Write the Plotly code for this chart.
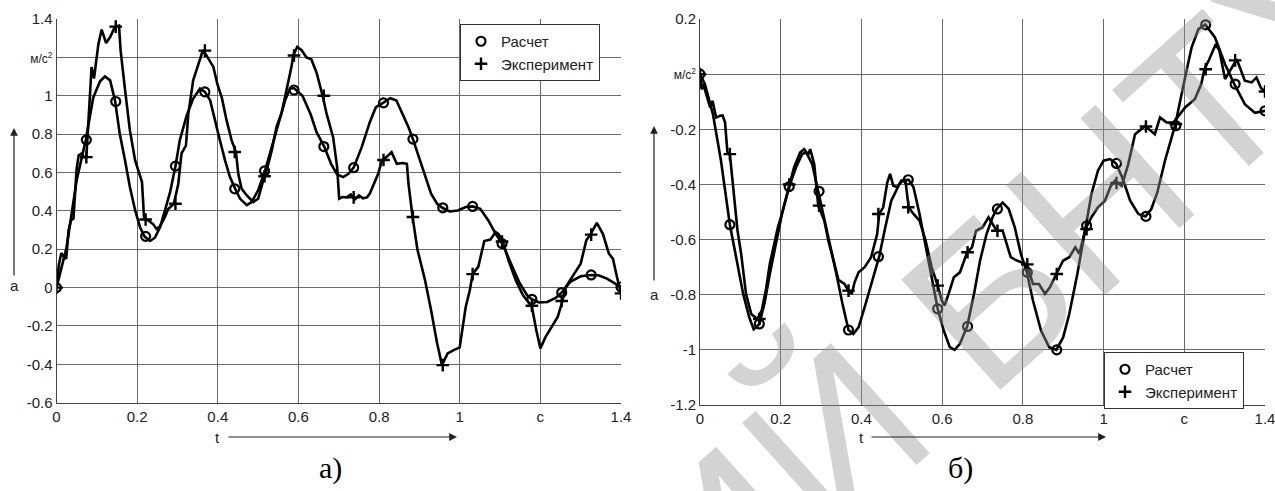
import plotly.graph_objects as go

# ---------------- data: panel а) ----------------
calc_a_t = [0, 0.025, 0.05, 0.073, 0.091, 0.108, 0.12, 0.133, 0.145, 0.157, 0.17, 0.182, 0.195,
            0.207, 0.218, 0.232, 0.244, 0.257, 0.269, 0.282, 0.295, 0.306, 0.323, 0.339, 0.356,
            0.368, 0.381, 0.393, 0.405, 0.418, 0.43, 0.443, 0.455, 0.472, 0.484, 0.5, 0.517,
            0.534, 0.55, 0.567, 0.579, 0.589, 0.61, 0.63, 0.645, 0.664, 0.681, 0.696, 0.711,
            0.724, 0.737, 0.757, 0.777, 0.792, 0.81, 0.828, 0.843, 0.858, 0.873, 0.884, 0.899,
            0.914, 0.929, 0.944, 0.957, 0.975, 0.995, 1.015, 1.032, 1.051, 1.071, 1.089, 1.106,
            1.127, 1.147, 1.167, 1.179, 1.197, 1.217, 1.238, 1.253, 1.274, 1.3, 1.326, 1.344,
            1.365, 1.4]
calc_a_v = [0, 0.21, 0.56, 0.773, 0.99, 1.075, 1.1, 1.08, 0.976, 0.8, 0.663, 0.524, 0.403,
            0.316, 0.267, 0.243, 0.26, 0.316, 0.403, 0.5, 0.633, 0.77, 0.898, 0.985, 1.037,
            1.02, 0.976, 0.88, 0.77, 0.663, 0.577, 0.516, 0.464, 0.43, 0.446, 0.507, 0.608,
            0.733, 0.846, 0.976, 1.037, 1.04, 1.0, 0.905, 0.81, 0.735, 0.645, 0.59, 0.576,
            0.593, 0.625, 0.732, 0.862, 0.94, 0.963, 0.987, 0.975, 0.905, 0.836, 0.774, 0.68,
            0.576, 0.489, 0.437, 0.416, 0.397, 0.402, 0.42, 0.423, 0.411, 0.35, 0.28, 0.229,
            0.125, 0.03, -0.04, -0.061, -0.078, -0.075, -0.054, -0.026, 0.03, 0.059, 0.066, 0.064,
            0.047, 0.003]

exp_a_t = [0, 0.006, 0.012, 0.018, 0.024, 0.03, 0.036, 0.042, 0.05, 0.055, 0.063, 0.068, 0.074,
           0.08, 0.087, 0.093, 0.104, 0.112, 0.123, 0.133, 0.145, 0.155, 0.159, 0.17, 0.182,
           0.195, 0.207, 0.212, 0.217, 0.228, 0.24, 0.248, 0.257, 0.269, 0.277, 0.291, 0.302,
           0.31, 0.321, 0.327, 0.339, 0.352, 0.363, 0.372, 0.381, 0.389, 0.399, 0.41, 0.422,
           0.434, 0.445, 0.451, 0.459, 0.472, 0.488, 0.5, 0.513, 0.521, 0.534, 0.546, 0.558,
           0.571, 0.583, 0.587, 0.597, 0.608, 0.62, 0.632, 0.645, 0.66, 0.67, 0.686, 0.696,
           0.701, 0.709, 0.72, 0.73, 0.74, 0.75, 0.76, 0.77, 0.777, 0.798, 0.807, 0.818, 0.831,
           0.844, 0.858, 0.869, 0.873, 0.883, 0.895, 0.914, 0.929, 0.944, 0.956, 0.97, 0.985,
           1.0, 1.005, 1.015, 1.025, 1.032, 1.046, 1.061, 1.076, 1.089, 1.096, 1.106, 1.121,
           1.139, 1.157, 1.179, 1.19, 1.2, 1.213, 1.228, 1.243, 1.253, 1.263, 1.279, 1.3,
           1.314, 1.325, 1.34, 1.355, 1.37, 1.38, 1.39, 1.4]
exp_a_v = [0, 0.12, 0.18, 0.16, 0.15, 0.3, 0.35, 0.36, 0.62, 0.69, 0.7, 0.68, 0.68,
           0.9, 1.15, 1.09, 1.27, 1.345, 1.275, 1.306, 1.36, 1.365, 1.237, 1.03, 0.82,
           0.663, 0.577, 0.55, 0.368, 0.35, 0.33, 0.306, 0.32, 0.368, 0.41, 0.437, 0.54,
           0.7, 0.74, 0.907, 1.08, 1.165, 1.237, 1.21, 1.175, 1.15, 1.06, 0.99, 0.87,
           0.77, 0.707, 0.59, 0.516, 0.48, 0.446, 0.463, 0.56, 0.61, 0.716, 0.84, 0.907,
           1.03, 1.153, 1.21, 1.254, 1.237, 1.2, 1.19, 1.12, 1.0, 0.905, 0.784, 0.628,
           0.463, 0.472, 0.47, 0.485, 0.46, 0.48, 0.465, 0.47, 0.49, 0.594, 0.664, 0.68, 0.706,
           0.645, 0.649, 0.645, 0.54, 0.37, 0.2, 0.038, -0.118, -0.29, -0.404, -0.343, -0.326,
           -0.312, -0.24, -0.1, -0.014, 0.07, 0.108, 0.243, 0.25, 0.29, 0.28, 0.246, 0.142,
           0.038, -0.04, -0.1, -0.222, -0.317, -0.257, -0.205, -0.153, -0.083, 0.003, 0.056, 0.125,
           0.246, 0.28, 0.337, 0.28, 0.177, 0.15, 0.055, -0.03]

# marker positions (same for all curves)
marker_t = [0, 0.074, 0.147, 0.221, 0.295, 0.368, 0.442, 0.516, 0.589, 0.663, 0.737, 0.811,
            0.884, 0.958, 1.032, 1.105, 1.179, 1.253, 1.326, 1.4]
calc_a_mk = [0, 0.77, 0.97, 0.267, 0.633, 1.02, 0.515, 0.608, 1.03, 0.735, 0.625, 0.963,
             0.774, 0.416, 0.423, 0.229, -0.061, -0.026, 0.066, 0.003]
exp_a_mk = [0, 0.68, 1.36, 0.355, 0.437, 1.235, 0.707, 0.58, 1.21, 1.0, 0.47, 0.665,
            0.368, -0.404, 0.07, 0.24, -0.095, -0.07, 0.276, -0.03]

# ---------------- data: panel б) ----------------
calc_b_t = [0, 0.012, 0.032, 0.052, 0.074, 0.092, 0.107, 0.122, 0.133, 0.147, 0.16, 0.173,
            0.188, 0.203, 0.221, 0.238, 0.253, 0.263, 0.278, 0.293, 0.308, 0.323, 0.338, 0.353,
            0.368, 0.38, 0.393, 0.408, 0.424, 0.444, 0.459, 0.474, 0.494, 0.504, 0.517, 0.529,
            0.544, 0.559, 0.574, 0.589, 0.604, 0.619, 0.631, 0.644, 0.662, 0.679, 0.694, 0.71,
            0.725, 0.735, 0.75, 0.765, 0.78, 0.795, 0.81, 0.825, 0.845, 0.865, 0.883, 0.9,
            0.915, 0.935, 0.955, 0.97, 0.986, 1.0, 1.016, 1.031, 1.046, 1.066, 1.086, 1.104,
            1.118, 1.133, 1.152, 1.177, 1.202, 1.218, 1.235, 1.252, 1.276, 1.301, 1.324, 1.35,
            1.375, 1.4]
calc_b_v = [0, -0.036, -0.145, -0.314, -0.546, -0.688, -0.797, -0.882, -0.925, -0.906, -0.83, -0.725,
            -0.616, -0.507, -0.408, -0.338, -0.29, -0.284, -0.326, -0.425, -0.519, -0.616, -0.725, -0.833,
            -0.928, -0.942, -0.918, -0.845, -0.761, -0.662, -0.556, -0.459, -0.399, -0.384, -0.383, -0.41,
            -0.507, -0.616, -0.737, -0.851, -0.93, -0.99, -1.0, -0.978, -0.915, -0.797, -0.676, -0.58,
            -0.519, -0.489, -0.466, -0.489, -0.556, -0.652, -0.719, -0.821, -0.93, -0.99, -1.0, -0.954,
            -0.87, -0.725, -0.55, -0.435, -0.35, -0.314, -0.308, -0.324, -0.374, -0.459, -0.507, -0.516,
            -0.49, -0.43, -0.315, -0.187, -0.012, 0.096, 0.163, 0.18, 0.133, 0.036, -0.036, -0.109,
            -0.14, -0.133]

exp_b_t = [0, 0.004, 0.008, 0.015, 0.025, 0.031, 0.04, 0.05, 0.056, 0.062, 0.068, 0.074, 0.081,
           0.087, 0.093, 0.102, 0.114, 0.127, 0.142, 0.153, 0.163, 0.173, 0.183, 0.193, 0.203,
           0.221, 0.233, 0.248, 0.258, 0.268, 0.273, 0.283, 0.293, 0.308, 0.318, 0.331, 0.343,
           0.358, 0.368, 0.376, 0.383, 0.393, 0.408, 0.424, 0.439, 0.444, 0.454, 0.464, 0.471,
           0.479, 0.489, 0.499, 0.509, 0.517, 0.529, 0.544, 0.559, 0.574, 0.589, 0.599, 0.606,
           0.616, 0.629, 0.644, 0.662, 0.674, 0.684, 0.7, 0.715, 0.725, 0.735, 0.75, 0.76,
           0.77, 0.785, 0.81, 0.825, 0.84, 0.855, 0.867, 0.883, 0.9, 0.915, 0.93, 0.94,
           0.955, 0.97, 0.986, 1.003, 1.018, 1.028, 1.045, 1.061, 1.078, 1.103, 1.127, 1.14,
           1.156, 1.173, 1.202, 1.226, 1.242, 1.25, 1.262, 1.278, 1.287, 1.301, 1.319, 1.33,
           1.35, 1.367, 1.379, 1.39, 1.4]
exp_b_v = [0, -0.055, -0.035, -0.07, -0.121, -0.097, -0.157, -0.151, -0.15, -0.175, -0.284, -0.29, -0.387,
           -0.484, -0.568, -0.652, -0.797, -0.87, -0.888, -0.857, -0.785, -0.688, -0.622, -0.556, -0.507,
           -0.4, -0.338, -0.284, -0.272, -0.292, -0.272, -0.326, -0.477, -0.531, -0.604, -0.676, -0.746,
           -0.761, -0.785, -0.797, -0.755, -0.719, -0.7, -0.664, -0.58, -0.507, -0.483, -0.393, -0.362,
           -0.405, -0.41, -0.386, -0.386, -0.483, -0.507, -0.531, -0.604, -0.7, -0.767, -0.821, -0.839,
           -0.797, -0.737, -0.719, -0.646, -0.628, -0.568, -0.556, -0.519, -0.543, -0.568, -0.568, -0.616,
           -0.664, -0.676, -0.69, -0.761, -0.761, -0.797, -0.773, -0.725, -0.676, -0.664, -0.628, -0.652,
           -0.562, -0.519, -0.483, -0.46, -0.405, -0.387, -0.405, -0.327, -0.218, -0.188, -0.218, -0.157,
           -0.175, -0.176, -0.121, -0.091, -0.036, 0.018, 0.054, 0.109, 0.085, -0.018, 0.03, 0.054,
           -0.024, -0.03, -0.012, -0.05, -0.063]

calc_b_mk = [0, -0.546, -0.906, -0.408, -0.425, -0.928, -0.662, -0.383, -0.851, -0.915, -0.489, -0.719,
             -1.0, -0.55, -0.324, -0.516, -0.187, 0.179, -0.036, -0.133]
exp_b_mk = [0, -0.29, -0.888, -0.40, -0.477, -0.785, -0.507, -0.483, -0.767, -0.646, -0.568, -0.69,
            -0.725, -0.562, -0.395, -0.19, -0.181, 0.018, 0.05, -0.063]

# tick labels
x_tickvals = [0, 0.2, 0.4, 0.6, 0.8, 1.0, 1.2, 1.4]
x_ticktext = ["0", "0.2", "0.4", "0.6", "0.8", "1", "c", "1.4"]
unit = "<span style='font-size:12px'>м/с<sup>2</sup></span>"
ya_tickvals = [-0.6, -0.4, -0.2, 0, 0.2, 0.4, 0.6, 0.8, 1.0, 1.2, 1.4]
ya_ticktext = ["-0.6", "-0.4", "-0.2", "0", "0.2", "0.4", "0.6", "0.8", "1", unit, "1.4"]
yb_tickvals = [-1.2, -1.0, -0.8, -0.6, -0.4, -0.2, 0, 0.2]
yb_ticktext = ["-1.2", "-1", "-0.8", "-0.6", "-0.4", "-0.2", unit, "0.2"]

names = ["Расчет", "Эксперимент"]
watermark_text = "ИЙ БНТУ"

W, H = 1275, 491
FONT = "Liberation Sans, Arial, sans-serif"
LINE = dict(color="black", width=2.6)

fig = go.Figure()

def add_panel(xa, ya, calc_t, calc_v, exp_t, exp_v, calc_mk, exp_mk, legend):
    fig.add_trace(go.Scatter(x=calc_t, y=calc_v, mode="lines", line=LINE, xaxis=xa, yaxis=ya,
                             showlegend=False, hoverinfo="skip"))
    fig.add_trace(go.Scatter(x=exp_t, y=exp_v, mode="lines", line=LINE, xaxis=xa, yaxis=ya,
                             showlegend=False, hoverinfo="skip"))
    fig.add_trace(go.Scatter(x=marker_t, y=calc_mk, mode="markers", name=names[0], xaxis=xa, yaxis=ya,
                             marker=dict(symbol="circle-open", size=9, color="black",
                                         line=dict(width=2.2, color="black")),
                             legend=legend))
    fig.add_trace(go.Scatter(x=marker_t, y=exp_mk, mode="markers", name=names[1], xaxis=xa, yaxis=ya,
                             marker=dict(symbol="cross-thin-open", size=9, color="black",
                                         line=dict(width=2.4, color="black")),
                             legend=legend))

add_panel("x", "y", calc_a_t, calc_a_v, exp_a_t, exp_a_v, calc_a_mk, exp_a_mk, "legend")
add_panel("x2", "y2", calc_b_t, calc_b_v, exp_b_t, exp_b_v, calc_b_mk, exp_b_mk, "legend2")

def px(x):
    return x / W

def py(y):
    return 1 - y / H

axis_common = dict(showgrid=True, gridcolor="#6a6a6a", gridwidth=1, zeroline=False,
                   showline=True, linecolor="#444", linewidth=1, ticks="", automargin=False,
                   ticklabeloverflow="allow",
                   tickfont=dict(family=FONT, size=15, color="#222"), fixedrange=True)

fig.update_layout(
    width=W, height=H, margin=dict(l=0, r=0, t=0, b=0, autoexpand=False),
    paper_bgcolor="white", plot_bgcolor="white",
    font=dict(family=FONT, size=15, color="#222"),
    xaxis=dict(domain=[px(56.5), px(621)], range=[0, 1.4], tickvals=x_tickvals, ticktext=x_ticktext,
               anchor="y", **axis_common),
    yaxis=dict(domain=[py(402.7), py(19)], range=[-0.6, 1.4], tickvals=ya_tickvals, ticktext=ya_ticktext,
               anchor="x", **axis_common),
    xaxis2=dict(domain=[px(700), px(1265)], range=[0, 1.4], tickvals=x_tickvals, ticktext=x_ticktext,
                anchor="y2", **axis_common),
    yaxis2=dict(domain=[py(405), py(19)], range=[-1.2, 0.2], tickvals=yb_tickvals, ticktext=yb_ticktext,
                anchor="x2", **axis_common),
    legend=dict(x=px(460), y=py(24), xanchor="left", yanchor="top", bgcolor="white",
                bordercolor="#333", borderwidth=1, font=dict(family=FONT, size=15, color="#222"),
                tracegroupgap=0, itemwidth=30),
    legend2=dict(x=px(1104), y=py(352), xanchor="left", yanchor="top", bgcolor="white",
                 bordercolor="#333", borderwidth=1, font=dict(family=FONT, size=15, color="#222"),
                 tracegroupgap=0, itemwidth=30),
    showlegend=True,
)

ann = []
# watermark (semi-transparent gray, rotated)
ann.append(dict(x=px(1010), y=py(280), xref="paper", yref="paper", text=watermark_text,
                showarrow=False, textangle=-42, xanchor="center", yanchor="middle",
                font=dict(family=FONT, size=215, color="rgba(150,150,150,0.42)")))
# axis labels "a" and "t"
for (x, y, t) in [(14, 285, "a"), (654, 294, "a"), (217, 437, "t"), (862, 437, "t")]:
    ann.append(dict(x=px(x), y=py(y), xref="paper", yref="paper", text=t, showarrow=False,
                    xanchor="center", yanchor="middle",
                    font=dict(family=FONT, size=15, color="#222")))
# arrows
for (hx, hy, ax, ay) in [(14, 128, 0, 149), (654, 126, 0, 156), (457, 437, -230, 0), (1106, 437, -236, 0)]:
    ann.append(dict(x=px(hx), y=py(hy), xref="paper", yref="paper", text="", showarrow=True,
                    ax=ax, ay=ay, arrowhead=2, arrowsize=1.3, arrowwidth=1.2, arrowcolor="#222"))
# panel captions
for (x, t) in [(330, "а)"), (960, "б)")]:
    ann.append(dict(x=px(x), y=py(468), xref="paper", yref="paper", text=t, showarrow=False,
                    xanchor="center", yanchor="middle",
                    font=dict(family="Liberation Serif, Times New Roman, serif", size=30, color="black")))
fig.update_layout(annotations=ann)

fig.write_html("out.html")
